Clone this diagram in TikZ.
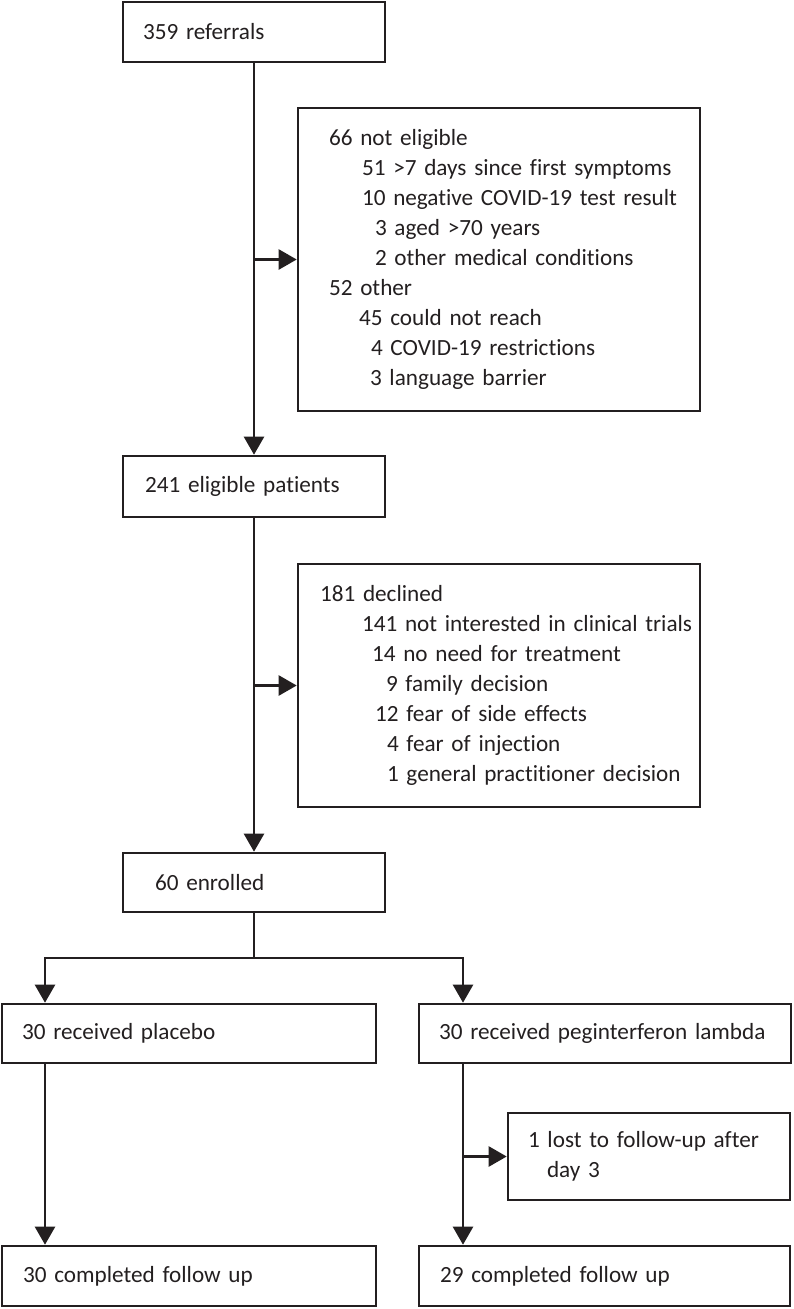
\documentclass[tikz,border=0pt]{standalone}
\usepackage{fontspec}
\setmainfont{Carlito}[WordSpace={0.8,0,0},Ligatures={NoCommon}]
\usetikzlibrary{arrows.meta}
\definecolor{ink}{RGB}{35,31,32}
\newcommand\indentrow[2]{\hspace*{#1pt}#2}

\begin{document}
\begin{tikzpicture}[x=1pt,y=-1pt,
  flowbox/.style={draw=ink,line width=2.6pt,rectangle,inner xsep=0pt,inner ysep=0pt,
    align=left,text=ink,font=\fontsize{23.2pt}{30pt}\selectfont},
  link/.style={draw=ink,line width=2.4pt},
  arrowlink/.style={link,-{Triangle[length=18pt,width=20pt]}}]
  \useasboundingbox (0,0) rectangle (793,1309);

  % main column
  \node [flowbox,text width=262pt,minimum height=60pt] (ref) at (254,32)
    {\indentrow{20}{359 referrals}};
  \node [flowbox,text width=262pt,minimum height=61pt] (elig) at (254,486.5)
    {\indentrow{22}{241 eligible patients}};
  \node [flowbox,text width=262pt,minimum height=59pt] (enrolled) at (254,882.5)
    {\indentrow{32}{60 enrolled}};

  % exclusion boxes
  \node [flowbox,text width=402pt,minimum height=303pt] (notelig) at (499,259.5)
    {\indentrow{31}{66 not eligible}\\
     \indentrow{64}{51 >7 days since first symptoms}\\
     \indentrow{64}{10 negative COVID-19 test result}\\
     \indentrow{77}{3 aged >70 years}\\
     \indentrow{77}{2 other medical conditions}\\
     \indentrow{31}{52 other}\\
     \indentrow{61}{45 could not reach}\\
     \indentrow{73}{4 COVID-19 restrictions}\\
     \indentrow{72}{3 language barrier}};
  \node [flowbox,text width=402pt,minimum height=243pt] (declined) at (499,685.5)
    {\indentrow{22}{181 declined}\\
     \indentrow{64}{141 not interested in clinical trials}\\
     \indentrow{74}{14 no need for treatment}\\
     \indentrow{88}{9 family decision}\\
     \indentrow{77}{12 fear of side effects}\\
     \indentrow{89}{4 fear of injection}\\
     \indentrow{89}{1 general practitioner decision}};

  % two arms
  \node [flowbox,text width=374pt,minimum height=59pt] (placebo) at (189,1033.5)
    {\indentrow{20}{30 received placebo}};
  \node [flowbox,text width=372pt,minimum height=59pt] (peg) at (605,1033.5)
    {\indentrow{20}{30 received peginterferon lambda}};
  \node [flowbox,text width=282pt,minimum height=87pt] (lost) at (649,1156.5)
    {\indentrow{20}{1 lost to follow-up after}\\
     \indentrow{39}{day 3}};
  \node [flowbox,text width=374pt,minimum height=60pt] (placebodone) at (189,1276)
    {\indentrow{21}{30 completed follow up}};
  \node [flowbox,text width=371pt,minimum height=60pt] (pegdone) at (604.5,1276)
    {\indentrow{21}{29 completed follow up}};

  % connectors
  \draw [arrowlink] (ref) -- (elig);
  \draw [arrowlink] (elig) -- (enrolled);
  \foreach \main/\side in {ref/notelig,elig/declined}
  {
    \coordinate (\main-j) at (\main.south |- \side.west);
    \draw [arrowlink] (\main-j) -- (\side.west);
  }

  \coordinate (split) at (254,958);
  \coordinate (placebo-top) at (45,958);
  \coordinate (peg-top) at (463,958);
  \draw [link] (enrolled) -- (split);
  \draw [arrowlink] (split) -- (placebo-top) -- (placebo-top |- placebo.north);
  \draw [arrowlink] (split) -- (peg-top) -- (peg-top |- peg.north);

  \draw [arrowlink] (placebo-top |- placebo.south) -- (placebo-top |- placebodone.north);
  \draw [arrowlink] (peg-top |- peg.south) -- (peg-top |- pegdone.north);
  \coordinate (peg-j) at (peg-top |- lost.west);
  \draw [arrowlink] (peg-j) -- (lost.west);

\end{tikzpicture}
\end{document}
